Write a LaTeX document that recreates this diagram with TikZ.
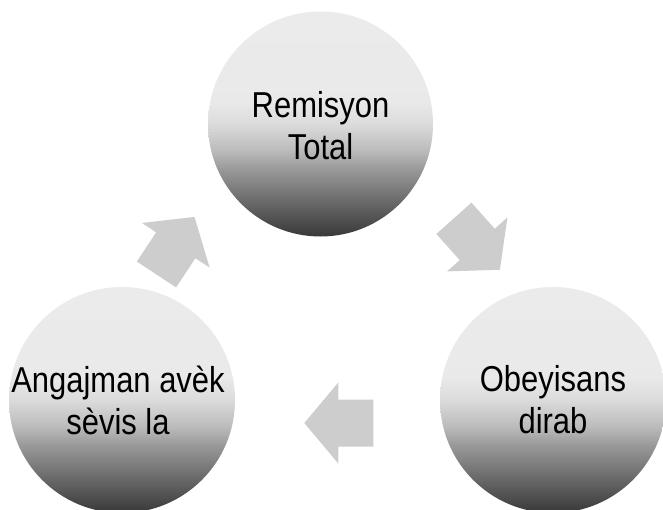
\documentclass[tikz,border=0pt]{standalone}
\usepackage{fontspec}
\newfontfamily\lbl[FakeStretch=0.86]{Liberation Sans}
\definecolor{arrowgray}{RGB}{205,205,205}
\definecolor{sA}{gray}{0.22}
\definecolor{sB}{gray}{0.42}
\definecolor{sC}{gray}{0.60}
\definecolor{sD}{gray}{0.73}
\definecolor{sE}{gray}{0.86}
\definecolor{sF}{gray}{0.915}
\definecolor{sG}{gray}{0.922}
\pgfdeclareverticalshading{ballgray}{100bp}{color(0bp)=(sA); color(25bp)=(sA); color(33bp)=(sB); color(40bp)=(sC); color(44bp)=(sD); color(50bp)=(sE); color(55bp)=(sF); color(75bp)=(sG); color(100bp)=(sG)}
\tikzset{
  ball/.style={circle, minimum size=226pt, inner sep=0pt, shading=ballgray},
  balltext/.style={inner sep=0pt, font=\lbl\fontsize{36}{42}\selectfont, align=center, text=black},
  blockarrow/.pic={\fill[arrowgray] (0,23.5) -- (35,23.5) -- (35,40.5) -- (69,0)
    -- (35,-40.5) -- (35,-23.5) -- (0,-23.5) -- cycle;}
}
\begin{document}
\begin{tikzpicture}[x=1pt,y=1pt]
\useasboundingbox (0,0) rectangle (663,-509);
\clip (0,0) rectangle (663,-509);
\fill[white] (0,0) rectangle (663,-509);
\node[ball, minimum size=225pt] (top) at (320.5,-124) {};
\node[ball] (left) at (122,-400) {};
\node[ball] (right) at (553,-400) {};
\node[balltext] (topText) at ([yshift=-2pt]top.center) {Remisyon\\Total};
\node[balltext] (leftText) at ([xshift=-4pt]left.center) {Angajman avèk\\sèvis la};
\node[balltext] (rightText) at (right.center) {Obeyisans\\dirab};
\pic (a1) [rotate=-48.2] at (453.9,-218.3) {blockarrow};
\pic (a2) [rotate=180] at (373.3,-423) {blockarrow};
\pic (a3) [rotate=56.6] at (156.5,-274.5) {blockarrow};
\end{tikzpicture}
\end{document}
